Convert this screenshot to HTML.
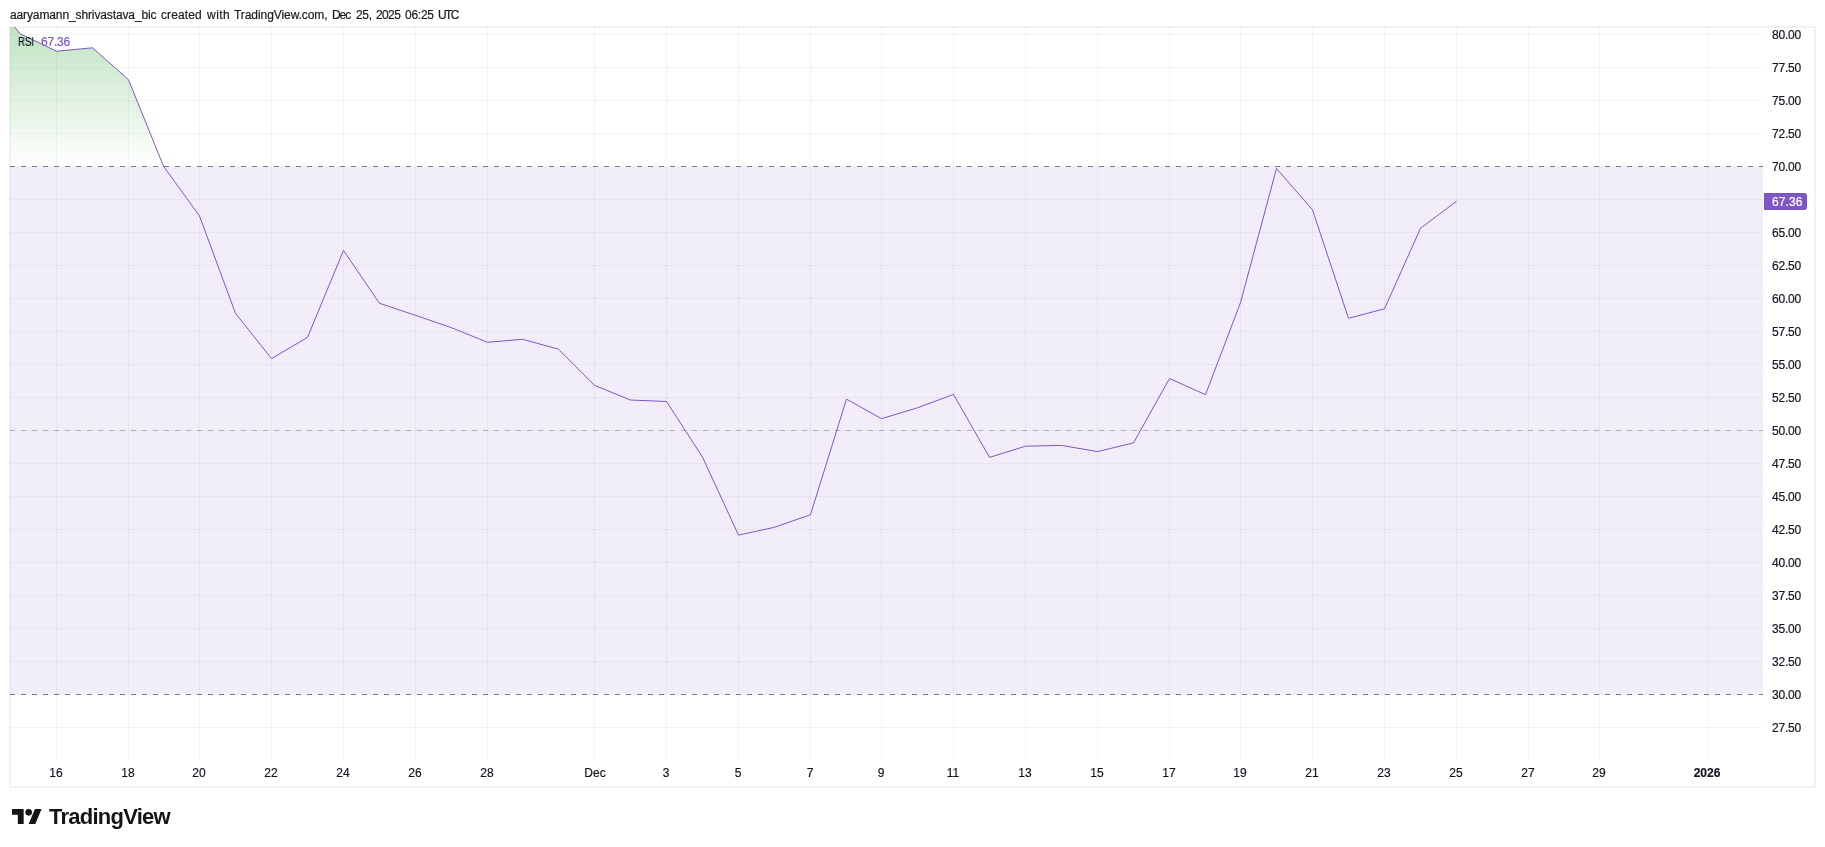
<!DOCTYPE html><html><head><meta charset="utf-8"><title>RSI</title><style>
html,body{margin:0;padding:0;background:#fff;}
body{width:1825px;height:847px;position:relative;overflow:hidden;font-family:"Liberation Sans",sans-serif;color:#131722;}
.t{will-change:transform;-webkit-text-stroke:0.2px;position:absolute;white-space:nowrap;line-height:14px;font-size:12px;}
.hdr{top:8px;font-size:12px;color:#1a1a1a;}
.pl{left:1772px;width:30px;text-align:left;letter-spacing:-0.2px;}
.xl{width:60px;text-align:center;top:766px;}
.b{font-weight:bold;}
.logo{left:49px;top:804px;font-size:22px;line-height:26px;font-weight:bold;letter-spacing:-0.75px;color:#141414;-webkit-text-stroke:0;}

</style></head><body>
<svg width="1825" height="847" viewBox="0 0 1825 847" style="position:absolute;left:0;top:0">
<defs><linearGradient id="gg" gradientUnits="userSpaceOnUse" x1="0" y1="-230" x2="0" y2="166"><stop offset="0" stop-color="#4caf50" stop-opacity="1"/><stop offset="1" stop-color="#4caf50" stop-opacity="0"/></linearGradient>
<clipPath id="pane"><rect x="10" y="27" width="1753" height="732"/></clipPath></defs>
<g shape-rendering="crispEdges">
<rect x="9" y="26" width="1807" height="2" fill="#f2f2f2"/>
<rect x="9" y="26" width="2" height="762" fill="#f2f2f2"/>
<rect x="1814" y="26" width="2" height="762" fill="#f2f2f2"/>
<rect x="9" y="786" width="1807" height="2" fill="#f2f2f2"/>
<rect x="56" y="27" width="1" height="732" fill="rgba(42,46,57,0.055)"/>
<rect x="128" y="27" width="1" height="732" fill="rgba(42,46,57,0.055)"/>
<rect x="199" y="27" width="1" height="732" fill="rgba(42,46,57,0.055)"/>
<rect x="271" y="27" width="1" height="732" fill="rgba(42,46,57,0.055)"/>
<rect x="343" y="27" width="1" height="732" fill="rgba(42,46,57,0.055)"/>
<rect x="415" y="27" width="1" height="732" fill="rgba(42,46,57,0.055)"/>
<rect x="487" y="27" width="1" height="732" fill="rgba(42,46,57,0.055)"/>
<rect x="594" y="27" width="1" height="732" fill="rgba(42,46,57,0.055)"/>
<rect x="666" y="27" width="1" height="732" fill="rgba(42,46,57,0.055)"/>
<rect x="738" y="27" width="1" height="732" fill="rgba(42,46,57,0.055)"/>
<rect x="810" y="27" width="1" height="732" fill="rgba(42,46,57,0.055)"/>
<rect x="881" y="27" width="1" height="732" fill="rgba(42,46,57,0.055)"/>
<rect x="953" y="27" width="1" height="732" fill="rgba(42,46,57,0.055)"/>
<rect x="1025" y="27" width="1" height="732" fill="rgba(42,46,57,0.055)"/>
<rect x="1097" y="27" width="1" height="732" fill="rgba(42,46,57,0.055)"/>
<rect x="1169" y="27" width="1" height="732" fill="rgba(42,46,57,0.055)"/>
<rect x="1240" y="27" width="1" height="732" fill="rgba(42,46,57,0.055)"/>
<rect x="1312" y="27" width="1" height="732" fill="rgba(42,46,57,0.055)"/>
<rect x="1384" y="27" width="1" height="732" fill="rgba(42,46,57,0.055)"/>
<rect x="1456" y="27" width="1" height="732" fill="rgba(42,46,57,0.055)"/>
<rect x="1528" y="27" width="1" height="732" fill="rgba(42,46,57,0.055)"/>
<rect x="1599" y="27" width="1" height="732" fill="rgba(42,46,57,0.055)"/>
<rect x="1707" y="27" width="1" height="732" fill="rgba(42,46,57,0.055)"/>
<rect x="10" y="34" width="1753" height="1" fill="rgba(42,46,57,0.055)"/>
<rect x="10" y="67" width="1753" height="1" fill="rgba(42,46,57,0.055)"/>
<rect x="10" y="100" width="1753" height="1" fill="rgba(42,46,57,0.055)"/>
<rect x="10" y="133" width="1753" height="1" fill="rgba(42,46,57,0.055)"/>
<rect x="10" y="166" width="1753" height="1" fill="rgba(42,46,57,0.055)"/>
<rect x="10" y="199" width="1753" height="1" fill="rgba(42,46,57,0.055)"/>
<rect x="10" y="232" width="1753" height="1" fill="rgba(42,46,57,0.055)"/>
<rect x="10" y="265" width="1753" height="1" fill="rgba(42,46,57,0.055)"/>
<rect x="10" y="298" width="1753" height="1" fill="rgba(42,46,57,0.055)"/>
<rect x="10" y="331" width="1753" height="1" fill="rgba(42,46,57,0.055)"/>
<rect x="10" y="364" width="1753" height="1" fill="rgba(42,46,57,0.055)"/>
<rect x="10" y="397" width="1753" height="1" fill="rgba(42,46,57,0.055)"/>
<rect x="10" y="430" width="1753" height="1" fill="rgba(42,46,57,0.055)"/>
<rect x="10" y="463" width="1753" height="1" fill="rgba(42,46,57,0.055)"/>
<rect x="10" y="496" width="1753" height="1" fill="rgba(42,46,57,0.055)"/>
<rect x="10" y="529" width="1753" height="1" fill="rgba(42,46,57,0.055)"/>
<rect x="10" y="562" width="1753" height="1" fill="rgba(42,46,57,0.055)"/>
<rect x="10" y="595" width="1753" height="1" fill="rgba(42,46,57,0.055)"/>
<rect x="10" y="628" width="1753" height="1" fill="rgba(42,46,57,0.055)"/>
<rect x="10" y="661" width="1753" height="1" fill="rgba(42,46,57,0.055)"/>
<rect x="10" y="694" width="1753" height="1" fill="rgba(42,46,57,0.055)"/>
<rect x="10" y="727" width="1753" height="1" fill="rgba(42,46,57,0.055)"/>
<rect x="10" y="167" width="1753" height="527" fill="rgba(126,87,194,0.1)"/>
</g>
<g clip-path="url(#pane)"><path d="M10,166.5 L-15.4,-10.4 L20.2,33.8 L56.5,51.2 L92.5,47.8 L128.5,79.7 L163.5,166.3 Z" fill="url(#gg)"/></g>
<g shape-rendering="crispEdges">
<line x1="10" y1="166.5" x2="1763" y2="166.5" stroke="#787b86" stroke-width="1" stroke-dasharray="5 6"/>
<line x1="10" y1="694.5" x2="1763" y2="694.5" stroke="#787b86" stroke-width="1" stroke-dasharray="5 6"/>
<line x1="10" y1="430.5" x2="1763" y2="430.5" stroke="rgba(120,123,134,0.5)" stroke-width="1" stroke-dasharray="5 6"/>
</g>
<g clip-path="url(#pane)"><path d="M-15.4,-10.4 L20.2,33.8 L56.5,51.2 L92.5,47.8 L128.5,79.7 L163.5,166.3 L199.5,216.0 L235.5,313.3 L271.5,358.6 L307.5,337.4 L343.5,250.5 L379.5,303.3 L415.5,315.3 L451.5,327.7 L487.5,342.3 L522.5,339.3 L558.5,349.2 L594.5,385.3 L630.5,400.0 L666.5,401.5 L702.5,457.1 L738.5,535.1 L774.5,527.3 L810.5,514.7 L846.5,399.1 L881.5,418.7 L917.5,407.8 L953.5,394.4 L989.5,457.4 L1025.5,446.2 L1061.5,445.4 L1097.5,451.6 L1133.5,442.9 L1169.5,378.5 L1205.5,394.7 L1240.5,302.6 L1276.5,168.4 L1312.5,209.9 L1348.5,318.3 L1384.5,308.8 L1420.5,228.3 L1456.5,201.3" fill="none" stroke="#7e57c2" stroke-width="1" stroke-linejoin="round"/></g>
<path d="M1764.5,193.5 h40 a2,2 0 0 1 2,2 v12 a2,2 0 0 1 -2,2 h-40 z" fill="#7e57c2" stroke="#7450c0" stroke-width="1"/>
<g transform="translate(12,805.67) scale(0.8333)" fill="#141414"><path d="M14 22H7V11H0V4h14v18zM28 22h-8l7.5-18h8L28 22z"/><circle cx="20" cy="8" r="4"/></g>
</svg>
<div class="t hdr" style="left:10.3px;letter-spacing:-0.119px;">aaryamann_shrivastava_bic</div>
<div class="t hdr" style="left:161.1px;letter-spacing:0.115px;">created</div>
<div class="t hdr" style="left:206.5px;letter-spacing:0.469px;">with</div>
<div class="t hdr" style="left:233.7px;letter-spacing:-0.072px;">TradingView.com,</div>
<div class="t hdr" style="left:332.3px;letter-spacing:-1.056px;">Dec</div>
<div class="t hdr" style="left:355.6px;letter-spacing:-0.356px;">25,</div>
<div class="t hdr" style="left:376.2px;letter-spacing:-0.629px;">2025</div>
<div class="t hdr" style="left:404.9px;letter-spacing:-0.251px;">06:25</div>
<div class="t hdr" style="left:438.4px;letter-spacing:-1.588px;">UTC</div>
<div class="t" style="left:18px;top:35px;transform:scaleX(0.8);transform-origin:0 0;">RSI</div>
<div class="t" style="left:40.8px;top:35px;color:#7e57c2;letter-spacing:-0.2px;">67.36</div>
<div class="t pl" style="top:28px;">80.00</div>
<div class="t pl" style="top:61px;">77.50</div>
<div class="t pl" style="top:94px;">75.00</div>
<div class="t pl" style="top:127px;">72.50</div>
<div class="t pl" style="top:160px;">70.00</div>
<div class="t pl" style="top:226px;">65.00</div>
<div class="t pl" style="top:259px;">62.50</div>
<div class="t pl" style="top:292px;">60.00</div>
<div class="t pl" style="top:325px;">57.50</div>
<div class="t pl" style="top:358px;">55.00</div>
<div class="t pl" style="top:391px;">52.50</div>
<div class="t pl" style="top:424px;">50.00</div>
<div class="t pl" style="top:457px;">47.50</div>
<div class="t pl" style="top:490px;">45.00</div>
<div class="t pl" style="top:523px;">42.50</div>
<div class="t pl" style="top:556px;">40.00</div>
<div class="t pl" style="top:589px;">37.50</div>
<div class="t pl" style="top:622px;">35.00</div>
<div class="t pl" style="top:655px;">32.50</div>
<div class="t pl" style="top:688px;">30.00</div>
<div class="t pl" style="top:721px;">27.50</div>
<div class="t pl" style="top:195px;color:#fff;left:1772px;letter-spacing:0.1px;-webkit-text-stroke:0.2px;">67.36</div>
<div class="t xl" style="left:25.9px;">16</div>
<div class="t xl" style="left:97.9px;">18</div>
<div class="t xl" style="left:168.9px;">20</div>
<div class="t xl" style="left:240.9px;">22</div>
<div class="t xl" style="left:312.9px;">24</div>
<div class="t xl" style="left:384.9px;">26</div>
<div class="t xl" style="left:456.9px;">28</div>
<div class="t xl" style="left:564.5px;">Dec</div>
<div class="t xl" style="left:635.9px;">3</div>
<div class="t xl" style="left:707.9px;">5</div>
<div class="t xl" style="left:779.9px;">7</div>
<div class="t xl" style="left:850.9px;">9</div>
<div class="t xl" style="left:922.9px;">11</div>
<div class="t xl" style="left:994.9px;">13</div>
<div class="t xl" style="left:1066.9px;">15</div>
<div class="t xl" style="left:1138.9px;">17</div>
<div class="t xl" style="left:1209.9px;">19</div>
<div class="t xl" style="left:1281.9px;">21</div>
<div class="t xl" style="left:1353.9px;">23</div>
<div class="t xl" style="left:1425.9px;">25</div>
<div class="t xl" style="left:1497.9px;">27</div>
<div class="t xl" style="left:1568.9px;">29</div>
<div class="t xl b" style="left:1676.9px;">2026</div>
<div class="t logo">TradingView</div>
</body></html>
